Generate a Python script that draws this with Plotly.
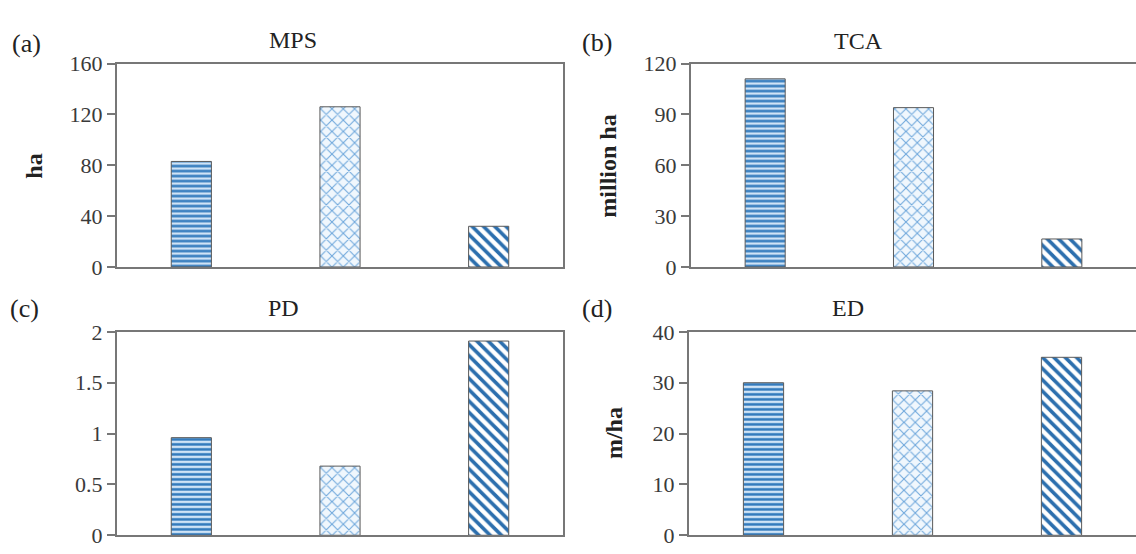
import plotly.graph_objects as go

# ---- data ----
classes = ["Class 1", "Class 2", "Class 3"]
mps_values = [83, 126, 32]        # ha
tca_values = [111, 94, 16.5]      # million ha
pd_values = [0.96, 0.68, 1.91]
ed_values = [30.0, 28.4, 35.0]    # m/ha

panel_titles = ["MPS", "TCA", "PD", "ED"]
panel_letters = ["(a)", "(b)", "(c)", "(d)"]
y_titles = ["ha", "million ha", "", "m/ha"]
y_ranges = [[0, 160], [0, 120], [0, 2], [0, 40]]
y_dticks = [40, 30, 0.5, 10]

W, H = 1136, 554
SERIF = "Liberation Serif, Times New Roman, serif"
AXC = "#777777"

def px(x):
    return x / W

def py(y):
    return 1 - y / H

xdoms = [[px(117), px(563)], [px(691), 1.0], [px(117), px(563)], [px(689), 1.0]]
ydoms = [[py(267), py(54)], [py(267), py(54)], [py(548), py(335)], [py(548), py(335)]]

styles = [
    dict(shape="-", fg="#2f78bb", bg="#cfe3f6", size=5, solidity=0.5),
    dict(shape="x", fg="#6fa8dc", bg="#f0f7fd", size=8, solidity=0.25),
    dict(shape="\\", fg="#2c6fae", bg="#ffffff", size=8, solidity=0.45),
]

fig = go.Figure()
all_values = [mps_values, tca_values, pd_values, ed_values]
for i, vals in enumerate(all_values):
    sfx = "" if i == 0 else str(i + 1)
    for k, cls in enumerate(classes):
        st = styles[k]
        fig.add_trace(go.Bar(
            x=[cls], y=[vals[k]], width=0.27, name=cls,
            xaxis="x" + sfx, yaxis="y" + sfx,
            marker=dict(color=st["bg"],
                        pattern=dict(shape=st["shape"], fgcolor=st["fg"], bgcolor=st["bg"],
                                     size=st["size"], solidity=st["solidity"],
                                     fillmode="replace", fgopacity=1),
                        line=dict(color="#5a5a5a", width=1)),
            showlegend=False,
        ))

layout = dict(
    width=W, height=H,
    margin=dict(l=0, r=0, t=0, b=0, pad=0),
    paper_bgcolor="white", plot_bgcolor="white",
    font=dict(family=SERIF, color="#333333"),
    barmode="overlay",
)
annotations = []
for i in range(4):
    sfx = "" if i == 0 else str(i + 1)
    right_cut = i in (1, 3)
    layout["xaxis" + sfx] = dict(
        domain=xdoms[i], anchor="y" + sfx, type="category",
        categoryorder="array", categoryarray=classes,
        range=[-0.5, 2.5], showticklabels=False, ticks="",
        showline=True, linecolor=AXC, linewidth=2, mirror=True,
        showgrid=False, zeroline=False, fixedrange=True,
    )
    layout["yaxis" + sfx] = dict(
        domain=ydoms[i], anchor="x" + sfx, range=y_ranges[i], dtick=y_dticks[i],
        ticks="outside", ticklen=8, tickcolor=AXC, tickwidth=2,
        tickfont=dict(family=SERIF, size=22, color="#3a3a3a"),
        showline=True, linecolor=AXC, linewidth=2,
        mirror=(not right_cut),
        showgrid=False, zeroline=False, fixedrange=True,
    )

title_pos = [(293, 29), (858, 30), (283, 310), (848, 310)]
letter_pos = [(26, 33), (597, 32), (24, 311), (597, 310)]
ytitle_pos = [(34, 162), (608, 162), None, (614, 441)]
for i in range(4):
    tx, ty = title_pos[i]
    annotations.append(dict(x=px(tx), y=py(ty), xref="paper", yref="paper",
                            text=panel_titles[i], showarrow=False,
                            font=dict(family=SERIF, size=24, color="#222222"),
                            xanchor="center", yanchor="middle"))
    lx, ly = letter_pos[i]
    annotations.append(dict(x=px(lx), y=py(ly), xref="paper", yref="paper",
                            text=panel_letters[i], showarrow=False,
                            font=dict(family=SERIF, size=26, color="#222222"),
                            xanchor="center", yanchor="middle"))
    if ytitle_pos[i] is not None:
        yx, yy = ytitle_pos[i]
        annotations.append(dict(x=px(yx), y=py(yy), xref="paper", yref="paper",
                                text="<b>" + y_titles[i] + "</b>", showarrow=False,
                                textangle=-90,
                                font=dict(family=SERIF, size=24, color="#222222"),
                                xanchor="center", yanchor="middle"))
layout["annotations"] = annotations
fig.update_layout(**layout)

fig.write_html("out.html")
